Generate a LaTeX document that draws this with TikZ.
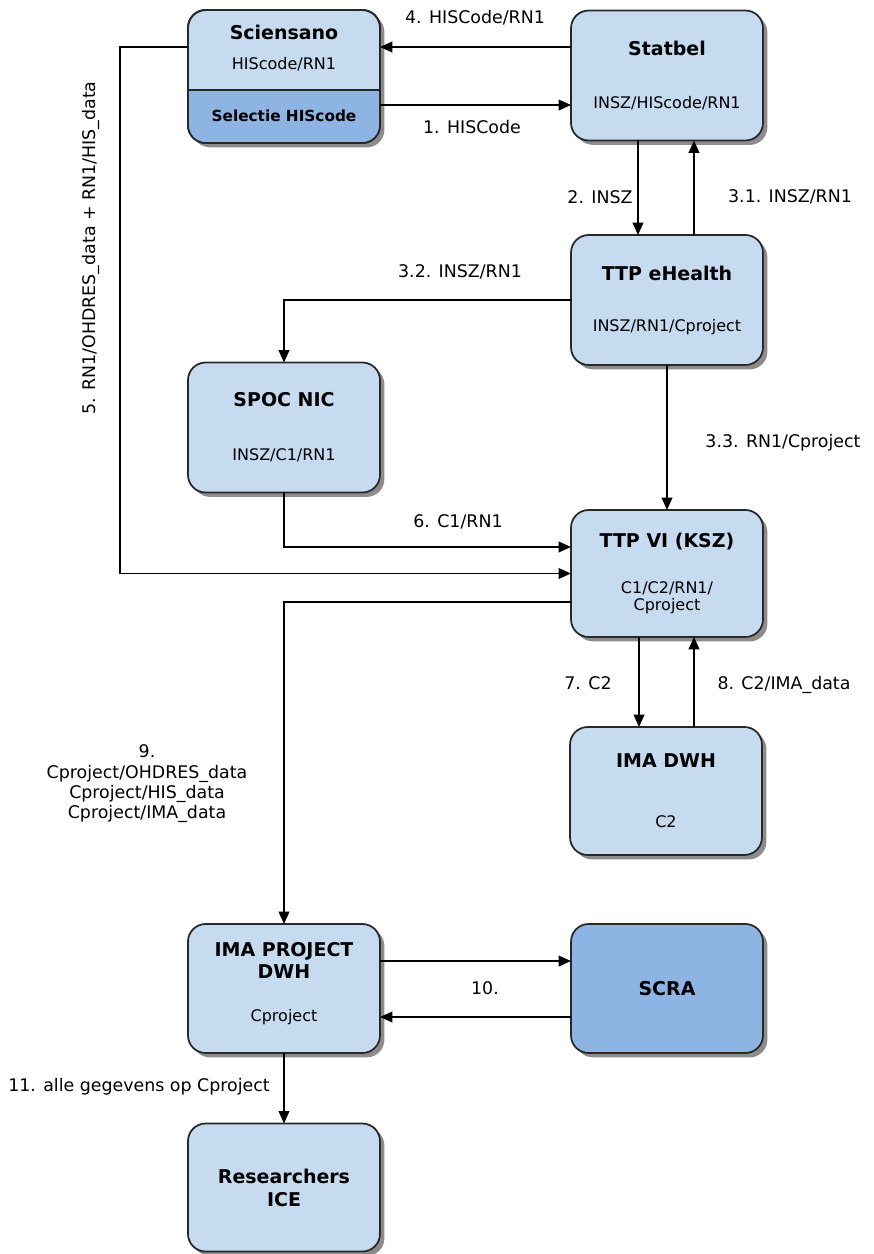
\documentclass[tikz,border=0pt]{standalone}
\usepackage{fontspec}
\setmainfont{DejaVu Sans}
\usetikzlibrary{arrows.meta,calc,shadows}
\definecolor{boxblue}{RGB}{198,219,239}
\definecolor{darkblue}{RGB}{141,180,227}
\definecolor{edge}{RGB}{40,40,40}
\newcommand{\titlefont}{\fontsize{10.8}{13}\selectfont\bfseries}
\newcommand{\subfont}{\fontsize{9.1}{11}\selectfont}
\newcommand{\flowfont}{\fontsize{9.9}{11.6}\selectfont}

\begin{document}
\begin{tikzpicture}[x=0.02cm,y=-0.02cm,
  box/.style={draw=edge,line width=1pt,fill=boxblue,rounded corners=10pt,
    minimum width=3.84cm,minimum height=2.6cm,align=center,outer sep=0pt,font=\subfont,
    drop shadow={shadow xshift=2.5pt,shadow yshift=-2.5pt,opacity=0.45,fill=black}},
  flow/.style={draw=black,line width=1.1pt,-{Triangle[length=7pt,width=6pt]}},
  lbl/.style={font=\flowfont,align=center,inner sep=1pt}]
  \useasboundingbox (0,0) rectangle (874,1254);
  % data flow between the partners
  \node[box,minimum height=2.66cm] (sci) at (284,76.5) {};
  \coordinate (split) at (284,90);
  \begin{scope}
    \clip[rounded corners=10pt] (sci.south west) rectangle (sci.north east);
    \fill[darkblue] (sci.south west) rectangle (sci.east |- split);
  \end{scope}
  \draw[edge,line width=1pt] (sci.west |- split) -- (sci.east |- split);
  \draw[edge,line width=1pt,rounded corners=10pt] (sci.south west) rectangle (sci.north east);
  \node[align=center,font=\subfont] (scitxt) at (284,48) {{\titlefont Sciensano}\\[6pt]HIScode/RN1};
  \node[font=\fontsize{8.7}{10}\selectfont\bfseries] (seltxt) at (284,116) {Selectie HIScode};

  \node[box] (stat) at (667,75.5) {{\titlefont Statbel}\\[19pt]INSZ/HIScode/RN1};
  \node[box] (tth) at (667,300) {{\titlefont TTP eHealth}\\[18pt]INSZ/RN1/Cproject};
  \node[box] (spoc) at (284,427.5) {{\titlefont SPOC NIC}\\[19.6pt]INSZ/C1/RN1};
  \node[box,minimum height=2.54cm] (ttpvi) at (667,573.5) {{\titlefont TTP VI (KSZ)}\\[15.6pt]C1/C2/RN1/\\[-1.4pt]Cproject};
  \node[box,minimum height=2.56cm] (imadwh) at (666,791) {{\titlefont IMA DWH}\\[23pt]C2};
  \node[box,minimum height=2.58cm] (imaproj) at (284,988.5) {{\titlefont IMA PROJECT}\\[1.5pt]{\titlefont DWH}\\[13.4pt]Cproject\\[-4pt]\mbox{}};
  \node[box,fill=darkblue,minimum height=2.58cm] (scra) at (667,988.5) {\titlefont SCRA};
  \node[box,minimum height=2.56cm] (res) at (284,1187.5) {{\titlefont Researchers}\\[2pt]{\titlefont ICE}};

  \draw[flow] ($(stat.west)+(0,-28.5)$) -- ($(sci.east)+(0,-29.5)$);
  \draw[flow] ($(sci.east)+(0,28.5)$) -- ($(stat.west)+(0,29.5)$);
  \draw[flow] ($(stat.south)+(-29,0)$) -- ($(tth.north)+(-29,0)$);
  \draw[flow] ($(tth.north)+(27,0)$) -- ($(stat.south)+(27,0)$);
  \draw[flow] (tth.west) -| (spoc.north);
  \draw[flow] (tth.south) -- (ttpvi.north);
  \draw[flow] (spoc.south) |- ($(ttpvi.west)+(0,-26.5)$);
  \draw[flow] ($(sci.west)+(0,-29.5)$) -- ++(-68,0) |- (ttpvi.west);
  \draw[flow] ($(ttpvi.west)+(0,28.5)$) -| (imaproj.north);
  \draw[flow] ($(ttpvi.south)+(-28,0)$) -- ($(imadwh.north)+(-27,0)$);
  \draw[flow] ($(imadwh.north)+(28,0)$) -- ($(ttpvi.south)+(27,0)$);
  \draw[flow] ($(imaproj.east)+(0,-27.5)$) -- ($(scra.west)+(0,-27.5)$);
  \draw[flow] ($(scra.west)+(0,28.5)$) -- ($(imaproj.east)+(0,28.5)$);
  \draw[flow] (imaproj.south) -- (res.north);

  \node[lbl] (l4) at (475,18) {4. HISCode/RN1};
  \node[lbl] (l1) at (472,127) {1. HISCode};
  \node[lbl] (l2) at (600,197) {2. INSZ};
  \node[lbl] (l31) at (790,197) {3.1. INSZ/RN1};
  \node[lbl] (l32) at (460,272) {3.2. INSZ/RN1};
  \node[lbl] (l33) at (783,443) {3.3. RN1/Cproject};
  \node[lbl] (l6) at (458,522) {6. C1/RN1};
  \node[lbl,rotate=90] (l5) at (91,248) {5. RN1/OHDRES\_data + RN1/HIS\_data};
  \node[lbl] (l9) at (147,784) {9.\\Cproject/OHDRES\_data\\Cproject/HIS\_data\\Cproject/IMA\_data};
  \node[lbl] (l7) at (588,683) {7. C2};
  \node[lbl] (l8) at (784,685) {8. C2/IMA\_data};
  \node[lbl] (l10) at (485,988) {10.};
  \node[lbl] (l11) at (139,1087) {11. alle gegevens op Cproject};
\end{tikzpicture}
\end{document}
